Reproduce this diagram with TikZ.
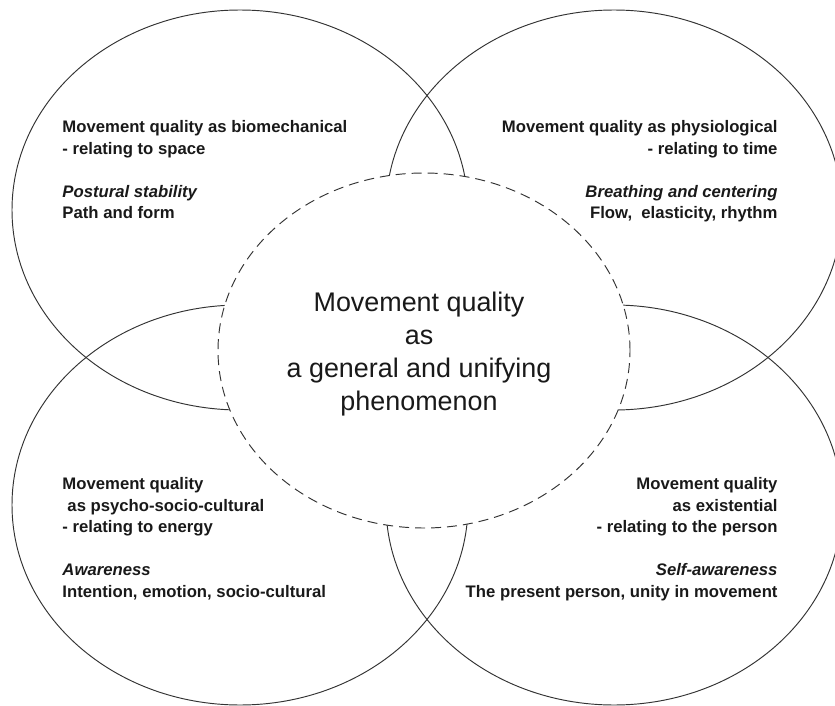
\documentclass[tikz,border=0pt]{standalone}
\usepackage{fontspec}
\setmainfont{Liberation Sans}
\begin{document}
\begin{tikzpicture}[x=1pt, y=-1pt, line width=0.95pt,
    ring/.style={draw=black!80},
    core/.style={draw=black!80, fill=white, dash pattern=on 10pt off 6pt},
    facet/.style={inner sep=0pt, text=black!90, font=\fontsize{16.7}{21.5}\selectfont\bfseries},
    title/.style={inner sep=0pt, align=center, text=black!90, font=\fontsize{26.9}{33}\selectfont}]

  \useasboundingbox (0,0) rectangle (835,706);
  \clip (0,0) rectangle (835,706);

  % -- Outer rings --
  \draw[ring] (240,210) ellipse [x radius=228pt, y radius=200pt];
  \draw[ring] (614,210) ellipse [x radius=228pt, y radius=200pt];
  \draw[ring] (240,505) ellipse [x radius=228pt, y radius=200pt];
  \draw[ring] (614,505) ellipse [x radius=228pt, y radius=200pt];

  % -- Central dashed ring --
  \draw[core] (424,350.5) ellipse [x radius=206pt, y radius=177.5pt];

  % -- Central label --
  \node[title] (general) at (419,354) {Movement quality\\as\\a general and unifying\\phenomenon};

  % -- Biomechanical --
  \node[facet, anchor=north west, align=left] (bio) at (62,120)
    {Movement quality as biomechanical\\- relating to space\\[21.5pt]\textit{Postural stability}\\Path and form};

  % -- Physiological --
  \node[facet, anchor=north east, align=right] (phys) at (778,120)
    {Movement quality as physiological\\- relating to time\\[21.5pt]\textit{Breathing and centering}\\Flow,~ elasticity, rhythm};

  % -- Psycho-socio-cultural --
  \node[facet, anchor=north west, align=left] (psych) at (62,477)
    {Movement quality\\\hspace*{5pt}as psycho-socio-cultural\\- relating to energy\\[21.5pt]\textit{Awareness}\\Intention, emotion, socio-cultural};

  % -- Existential --
  \node[facet, anchor=north east, align=right] (exist) at (778,477)
    {Movement quality\\as existential\\- relating to the person\\[21.5pt]\textit{Self-awareness}\\The present person, unity in movement};

\end{tikzpicture}
\end{document}
